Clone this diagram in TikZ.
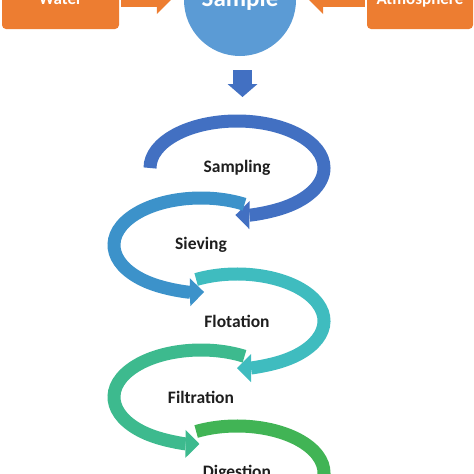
\documentclass[tikz,border=0pt]{standalone}
\usepackage{fontspec}
\setmainfont{Carlito}
\usetikzlibrary{arrows.meta}

\definecolor{feedorange}{HTML}{ED7D31}
\definecolor{sampleblue}{HTML}{5B9BD5}
\definecolor{sampcol}{HTML}{4270C2}
\definecolor{sievcol}{HTML}{3C92CA}
\definecolor{flotcol}{HTML}{3FBCBF}
\definecolor{filtcol}{HTML}{3DBA8E}
\definecolor{digecol}{HTML}{41B455}
\definecolor{labelgray}{HTML}{1E1E1E}

\begin{document}
\begin{tikzpicture}[x=1pt, y=-1pt]
\tikzset{
    pbox/.style= {rectangle, rounded corners=4pt, fill=feedorange, text=white, font=\fontsize{17}{20}\selectfont\bfseries, minimum height=58pt, text height=12pt, text depth=4pt},
    psample/.style= {circle, fill=sampleblue, text=white, font=\fontsize{25}{28}\selectfont\bfseries, minimum size=112pt, text height=17pt, text depth=5pt, inner sep=0pt},
    pfeed/.style= {feedorange, line width=14pt, -{Triangle[width=28pt, length=14pt, line width=0pt]}, shorten <=2pt, shorten >=13pt},
    pdown/.style= {sampcol, line width=19pt, -{Triangle[width=30pt, length=13pt, line width=0pt]}},
    plabel/.style= {text=labelgray, font=\fontsize{17.5}{20}\selectfont\bfseries},
    parc/.style= {line width=13pt, -{Triangle[width=28pt, length=14pt, line width=0pt]}},
}

\useasboundingbox (0,0) rectangle (474,474);
\clip (0,0) rectangle (474,474);

\node[pbox, minimum width=117pt] (water) at (60.5,0) {Water};
\node[psample] (sample) at (240,0) {Sample};
\node[pbox, minimum width=106pt] (atmo) at (420,0) {Atmosphere};

\coordinate (dtop) at (242.5,70);
\coordinate (dtip) at (242.5,97);

\node[plabel] (sampling) at (237,168) {Sampling};
\node[plabel] (sieving) at (201,245) {Sieving};
\node[plabel] (flotation) at (237,321) {Flotation};
\node[plabel] (filtration) at (201,397) {Filtration};
\node[plabel] (digestion) at (237,473) {Digestion};

\draw
(water) edge[pfeed] (sample)
(atmo) edge[pfeed] (sample)
(dtop) edge[pdown] (dtip);

% stage loops
\draw[parc, sampcol] (sampling) ++(180:87 and 47) arc[start angle=180, end angle=451, x radius=87, y radius=47];
\draw[parc, sievcol] (sieving) ++(300:87 and 47) arc[start angle=300, end angle=88, x radius=87, y radius=47];
\draw[parc, flotcol] (flotation) ++(242:87 and 47) arc[start angle=242, end angle=450, x radius=87, y radius=47];
\draw[parc, filtcol] (filtration) ++(300:87 and 47) arc[start angle=300, end angle=91, x radius=87, y radius=47];
\draw[parc, digecol] (digestion) ++(242:87 and 47) arc[start angle=242, end angle=450, x radius=87, y radius=47];
\end{tikzpicture}
\end{document}
